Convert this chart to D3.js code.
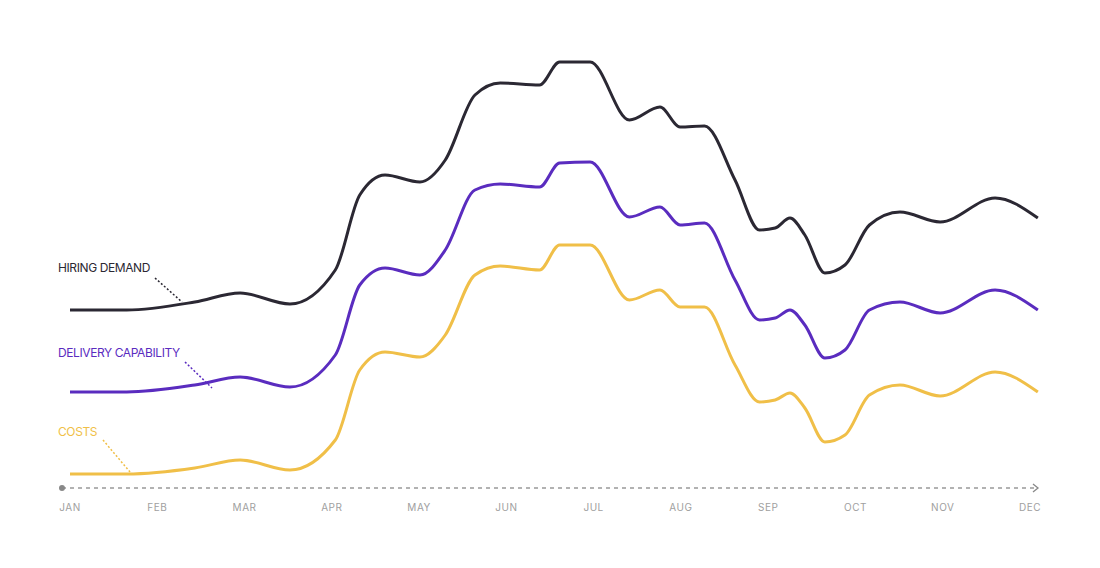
<!DOCTYPE html>
<html><head><meta charset="utf-8">
<script src="https://cdn.jsdelivr.net/npm/d3@7"></script>
<style>body{margin:0;background:#fff}</style></head>
<body><svg id="c" width="1100" height="568"></svg>
<script>
const months=["JAN","FEB","MAR","APR","MAY","JUN","JUL","AUG","SEP","OCT","NOV","DEC"];
const xs=[0,0.65,1.43,1.95,2.52,3.04,3.32,3.61,4.01,4.30,4.64,4.93,5.38,5.61,5.96,6.41,6.76,6.99,7.27,7.62,7.90,8.08,8.25,8.42,8.65,8.88,9.16,9.51,9.97,10.60,11.09];
const hiring=[178,178,186,195,184,218,293,313,306,328,393,405,403,426,426,368,381,361,362,308,258,260,270,253,215,223,263,276,266,290,270];
const delivery=[96,96,103,111,101,133,203,220,213,238,298,304,301,325,326,271,281,263,265,208,168,170,178,163,130,138,178,186,175,198,178];
const costs=[14,14,20,28,18,48,118,136,131,153,213,222,218,243,243,188,198,181,181,123,86,88,95,80,46,53,93,103,92,116,96];
const series=[
 {name:"HIRING DEMAND",vals:hiring,color:"#2b2833",lab:[58,268],lead:[[155,278],[182,302]]},
 {name:"DELIVERY CAPABILITY",vals:delivery,color:"#5a2cbf",lab:[58,353],lead:[[185,362],[212,388]]},
 {name:"COSTS",vals:costs,color:"#f0bf48",lab:[58,432],lead:[[103,440],[130,472]]}
];
const svg=d3.select("#c");
const x=d3.scaleLinear().domain([0,11]).range([70,1030]);
const y=d3.scaleLinear().domain([0,448]).range([488,40]);
// axis
svg.append("line").attr("x1",62).attr("x2",1036).attr("y1",488).attr("y2",488)
 .attr("stroke","#999").attr("stroke-width",1.3).attr("stroke-dasharray","4,4");
svg.append("circle").attr("cx",62).attr("cy",488).attr("r",3).attr("fill","#888");
svg.append("path").attr("d","M1033,484 L1038,488 L1033,492").attr("fill","none").attr("stroke","#888").attr("stroke-width",1.3);
svg.selectAll("text.m").data(months).join("text").attr("class","m")
 .attr("x",(d,i)=>x(i)).attr("y",511).attr("text-anchor","middle")
 .attr("font-family","Inter, sans-serif").attr("font-size",10).attr("fill","#a0a0a0").attr("letter-spacing","0.5").text(d=>d);
const line=d3.line().x((d,i)=>x(xs[i])).y(d=>y(d)).curve(d3.curveMonotoneX);
series.forEach(s=>{
 svg.append("path").attr("d",line(s.vals)).attr("fill","none").attr("stroke",s.color).attr("stroke-width",3).attr("stroke-linejoin","round");
 svg.append("line").attr("x1",s.lead[0][0]).attr("y1",s.lead[0][1]).attr("x2",s.lead[1][0]).attr("y2",s.lead[1][1])
  .attr("stroke",s.color).attr("stroke-width",1.5).attr("stroke-dasharray","2,2");
 svg.append("text").attr("x",s.lab[0]).attr("y",s.lab[1]+4).attr("font-family","Inter, sans-serif").attr("font-size",12)
  .attr("letter-spacing","-0.4").attr("fill",s.color).text(s.name);
});
</script></body></html>
